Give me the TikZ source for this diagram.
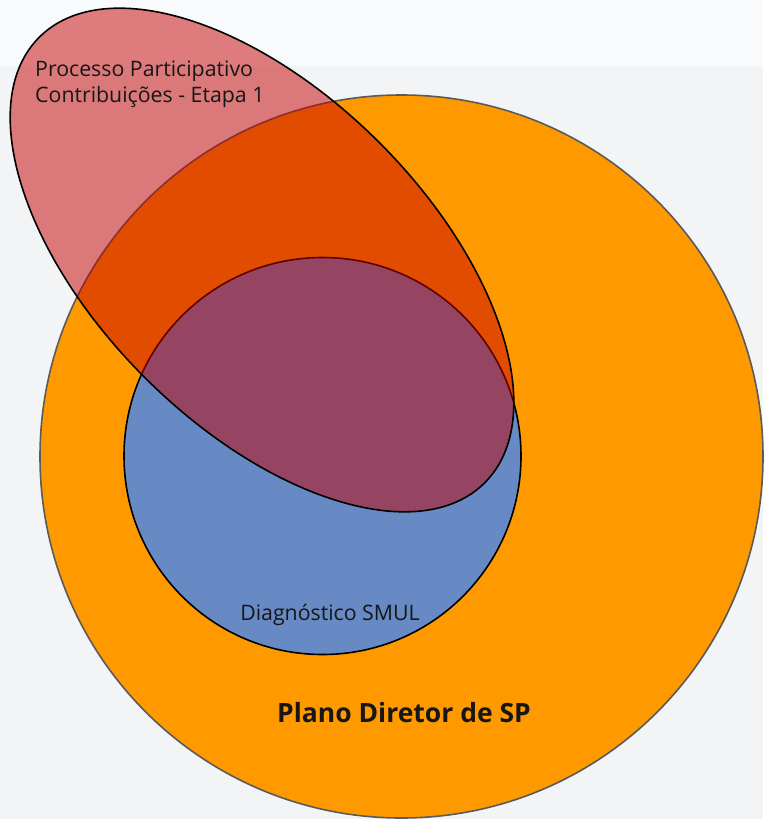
\documentclass[tikz,border=0pt]{standalone}
\usepackage{fontspec}
\setmainfont{Open Sans}
\usetikzlibrary{positioning}
\definecolor{bgTop}{HTML}{F9FAFC}
\definecolor{bgMain}{HTML}{F3F4F6}
\definecolor{planoOrange}{HTML}{FF9900}
\definecolor{planoEdge}{HTML}{5A5A5A}
\definecolor{smulBlue}{HTML}{6789C4}
\definecolor{partRed}{HTML}{C40000}
\definecolor{labelInk}{HTML}{161616}

\begin{document}
\begin{tikzpicture}[x=1pt, y=-1pt,
    setedge/.style={line width=1.6pt},
    plano/.style={setedge, fill=planoOrange, draw=planoEdge},
    smul/.style={setedge, fill=smulBlue, draw=black},
    partic/.style={setedge, fill=partRed, fill opacity=0.5, draw=black, draw opacity=1},
    setname/.style={text=labelInk, inner sep=0pt, font=\fontsize{21.3}{26}\selectfont},
  ]
    % page and background bands
    \useasboundingbox (0,0) rectangle (763,819);
    \fill[bgTop] (0,0) rectangle (763,66);
    \fill[bgMain] (0,66) rectangle (763,819);

    % the three sets
    \draw[plano] (401.5,456.5) circle[radius=361.5];
    \draw[smul] (322.5,456) circle[radius=198.5];
    \draw[partic, rotate around={-45:(262,260)}]
      (262,260) ellipse[x radius=315, y radius=166];

    % set names
    \node[setname, anchor=base west] (procName) at (35,76) {Processo Participativo};
    \node[setname, anchor=base west] (contribName) at (35,102) {Contribuições - Etapa 1};
    \node[setname, anchor=base] (smulName) at (330,620) {Diagnóstico SMUL};
    \node[setname, anchor=base, font=\fontsize{26.5}{30}\selectfont\bfseries]
      (planoName) at (404,722) {Plano Diretor de SP};
\end{tikzpicture}
\end{document}
